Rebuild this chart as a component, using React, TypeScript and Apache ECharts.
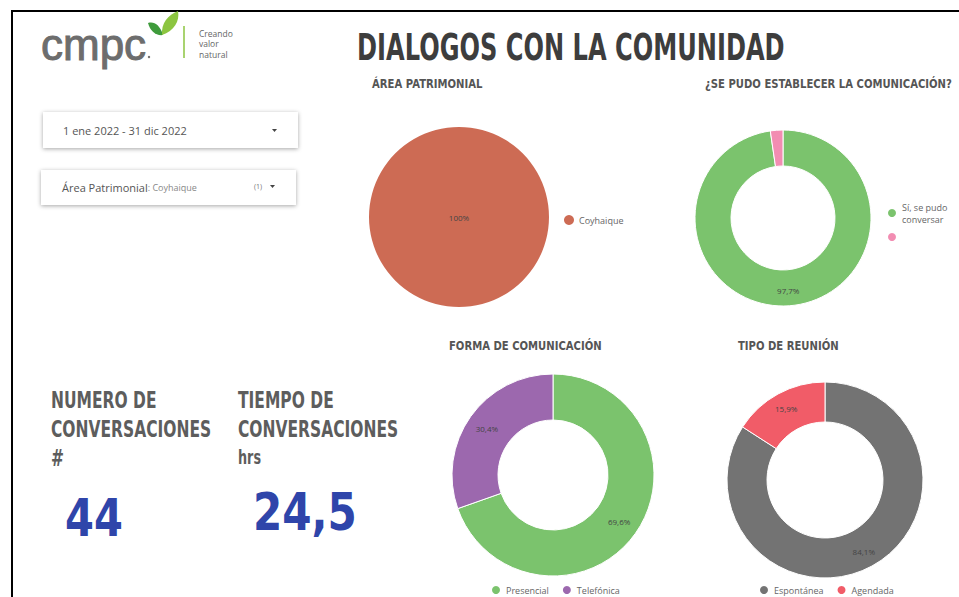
import React, { useEffect, useRef } from "react";
import * as echarts from "echarts";

const areaCategories = ["Coyhaique"];
const areaValues = [100];
const conversoCategories = ["Sí, se pudo conversar", " "];
const conversoValues = [97.7, 2.3];
const formaCategories = ["Presencial", "Telefónica"];
const formaValues = [69.6, 30.4];
const tipoCategories = ["Espontánea", "Agendada"];
const tipoValues = [84.1, 15.9];
const kpiTitles = [
  ["NUMERO DE", "CONVERSACIONES", "#"],
  ["TIEMPO DE", "CONVERSACIONES", "hrs"],
];
const kpiValues = ["44", "24,5"];
const chartTitles = [
  "ÁREA PATRIMONIAL",
  "¿SE PUDO ESTABLECER LA COMUNICACIÓN?",
  "FORMA DE COMUNICACIÓN",
  "TIPO DE REUNIÓN",
];
const logoWords = ["Creando", "valor", "natural"];
const dateRange = "1 ene 2022 - 31 dic 2022";
const filterLabel = "Área Patrimonial";
const filterValue = ": Coyhaique";

const areaColors = ["#cd6b54"];
const conversoColors = ["#7bc36d", "#f28db2"];
const formaColors = ["#7bc36d", "#9c68ae"];
const tipoColors = ["#737373", "#f15c68"];

const BOLD = "'DejaVu Sans',sans-serif";
const SMALL = "'Open Sans','Noto Sans',sans-serif";

const fmt = (p: any) => {
  const v = p.value as number;
  return Number.isInteger(v) ? v + "%" : v.toFixed(1).replace(".", ",") + "%";
};

const mk = (names: string[], vals: number[], colors: string[]) =>
  names.map((n, i) => ({ name: n, value: vals[i], itemStyle: { color: colors[i] } }));

echarts.graphic.registerShape(
  "leafDark",
  echarts.graphic.extendPath("M0,12 C6,10 12,14 15,24 C8,25 2,20 0,12 Z", {})
);
echarts.graphic.registerShape(
  "leafLight",
  echarts.graphic.extendPath("M14,24 C13,12 20,4 30,0 C32,10 26,20 14,24 Z", {})
);

export default function App() {
  const ref = useRef<HTMLDivElement>(null);
  useEffect(() => {
    if (!ref.current) return;
    const chart = echarts.init(ref.current, undefined, { renderer: "svg" });
    const labelStyle = { fontSize: 8, color: "#444", fontFamily: SMALL };
    const legendText = { fontSize: 9, color: "#666", fontFamily: SMALL };
    const titleStyle = (x: number, y: number, t: string) => ({
      type: "text",
      x,
      y,
      scaleX: 0.775,
      style: { text: t, fontFamily: BOLD, fontWeight: "bold", fontSize: 13, fill: "#555", verticalAlign: "middle" },
    });
    const graphic: any[] = [
      { type: "line", shape: { x1: 11, y1: 11, x2: 959, y2: 11 }, style: { stroke: "#000", lineWidth: 2 } },
      { type: "line", shape: { x1: 12, y1: 11, x2: 12, y2: 597 }, style: { stroke: "#000", lineWidth: 2 } },
      // logo
      { type: "text", x: 41, y: 44, style: { text: "cmpc", fontFamily: "'Liberation Sans',Arial,sans-serif", fontSize: 44, fill: "#6d6d6d", stroke: "#6d6d6d", lineWidth: 1, verticalAlign: "middle" } },
      { type: "circle", shape: { cx: 149, cy: 57, r: 1.2 }, style: { fill: "#6d6d6d" } },
      { type: "leafDark", x: 148, y: 11, style: { fill: "#3f9b3c" } },
      { type: "leafLight", x: 148, y: 11, style: { fill: "#8cc540" } },
      { type: "line", shape: { x1: 184, y1: 26, x2: 184, y2: 58 }, style: { stroke: "#8cc540", lineWidth: 1.5 } },
      // main title
      { type: "text", x: 357, y: 47, scaleX: 0.635, style: { text: "DIALOGOS CON LA COMUNIDAD", fontFamily: BOLD, fontWeight: "bold", fontSize: 38, fill: "#3d3d3d", verticalAlign: "middle" } },
      // filters
      { type: "rect", shape: { x: 43, y: 112, width: 255, height: 36 }, style: { fill: "#fff", shadowBlur: 4, shadowColor: "rgba(0,0,0,0.35)", shadowOffsetY: 1 } },
      { type: "text", x: 63, y: 130, style: { text: dateRange, fontFamily: SMALL, fontSize: 11, fill: "#555", verticalAlign: "middle" } },
      { type: "polygon", shape: { points: [[272, 129], [277, 129], [274.5, 132]] }, style: { fill: "#444" } },
      { type: "rect", shape: { x: 41, y: 170, width: 255, height: 35 }, style: { fill: "#fff", shadowBlur: 4, shadowColor: "rgba(0,0,0,0.35)", shadowOffsetY: 1 } },
      {
        type: "text", x: 62, y: 187,
        style: {
          text: "{a|" + filterLabel + "}{b|" + filterValue + "}",
          verticalAlign: "middle",
          rich: {
            a: { fontFamily: SMALL, fontSize: 11, fill: "#555", color: "#555" },
            b: { fontFamily: SMALL, fontSize: 9, fill: "#888", color: "#888" },
          },
        },
      },
      { type: "text", x: 254, y: 186, style: { text: "(1)", fontFamily: SMALL, fontSize: 7, fill: "#777", verticalAlign: "middle" } },
      { type: "polygon", shape: { points: [[270, 185], [275, 185], [272.5, 188]] }, style: { fill: "#444" } },
      // chart titles
      titleStyle(372, 84, chartTitles[0]),
      titleStyle(705, 84, chartTitles[1]),
      titleStyle(449, 346, chartTitles[2]),
      titleStyle(738, 346, chartTitles[3]),
    ];
    logoWords.forEach((w, i) => {
      graphic.push({ type: "text", x: 199, y: 33 + i * 10.5, style: { text: w, fontFamily: SMALL, fontSize: 8.5, lineHeight: 10, fill: "#666", verticalAlign: "middle" } });
    });
    const kx = [51, 238];
    kpiTitles.forEach((lines, k) => {
      lines.forEach((t, j) => {
        graphic.push({
          type: "text", x: kx[k], y: 400 + j * 29, scaleX: 0.674,
          style: { text: t, fontFamily: BOLD, fontWeight: "bold", fontSize: j === 2 && k === 1 ? 19 : 23, fill: "#5d5d5d", verticalAlign: "middle" },
        });
      });
    });
    graphic.push({ type: "text", x: 65, y: 518, scaleX: 0.8, style: { text: kpiValues[0], fontFamily: BOLD, fontWeight: "bold", fontSize: 52, fill: "#2f45aa", verticalAlign: "middle" } });
    graphic.push({ type: "text", x: 253, y: 512, scaleX: 0.81, style: { text: kpiValues[1], fontFamily: BOLD, fontWeight: "bold", fontSize: 52, fill: "#2f45aa", verticalAlign: "middle" } });

    const legendBase = { icon: "circle", itemWidth: 10, itemHeight: 10, padding: 0, textStyle: legendText, selectedMode: false };
    chart.setOption({
      animation: false,
      backgroundColor: "#fff",
      graphic,
      legend: [
        { ...legendBase, data: areaCategories, left: 564, top: 215 },
        {
          ...legendBase, data: conversoCategories, left: 886, top: 201, orient: "vertical", itemGap: 6,
          formatter: (n: string) => n.replace("Sí, se pudo ", "Sí, se pudo\n"), textStyle: { ...legendText, lineHeight: 12 },
        },
        { ...legendBase, data: formaCategories, left: 490, top: 584, itemGap: 12 },
        { ...legendBase, data: tipoCategories, left: 758, top: 584, itemGap: 12 },
      ],
      series: [
        {
          type: "pie", center: [459, 217], radius: [0, 90], data: mk(areaCategories, areaValues, areaColors),
          label: { position: "center", formatter: fmt, ...labelStyle }, labelLine: { show: false }, emphasis: { disabled: true },
        },
        {
          type: "pie", center: [783, 218], radius: [52, 88], data: mk(conversoCategories, conversoValues, conversoColors),
          itemStyle: { borderColor: "#fff", borderWidth: 1 },
          label: { position: "inside", formatter: (p: any) => (p.value > 5 ? fmt(p) : ""), ...labelStyle }, labelLine: { show: false }, emphasis: { disabled: true },
        },
        {
          type: "pie", center: [553, 475], radius: [55, 101], data: mk(formaCategories, formaValues, formaColors),
          itemStyle: { borderColor: "#fff", borderWidth: 1 },
          label: { position: "inside", formatter: fmt, ...labelStyle }, labelLine: { show: false }, emphasis: { disabled: true },
        },
        {
          type: "pie", center: [825, 480], radius: [58, 98], data: mk(tipoCategories, tipoValues, tipoColors),
          itemStyle: { borderColor: "#fff", borderWidth: 1 },
          label: { position: "inside", formatter: fmt, ...labelStyle }, labelLine: { show: false }, emphasis: { disabled: true },
        },
      ],
    });
    return () => chart.dispose();
  }, []);
  return <div ref={ref} style={{ position: "fixed", left: 0, top: 0, width: 959, height: 597 }} />;
}
